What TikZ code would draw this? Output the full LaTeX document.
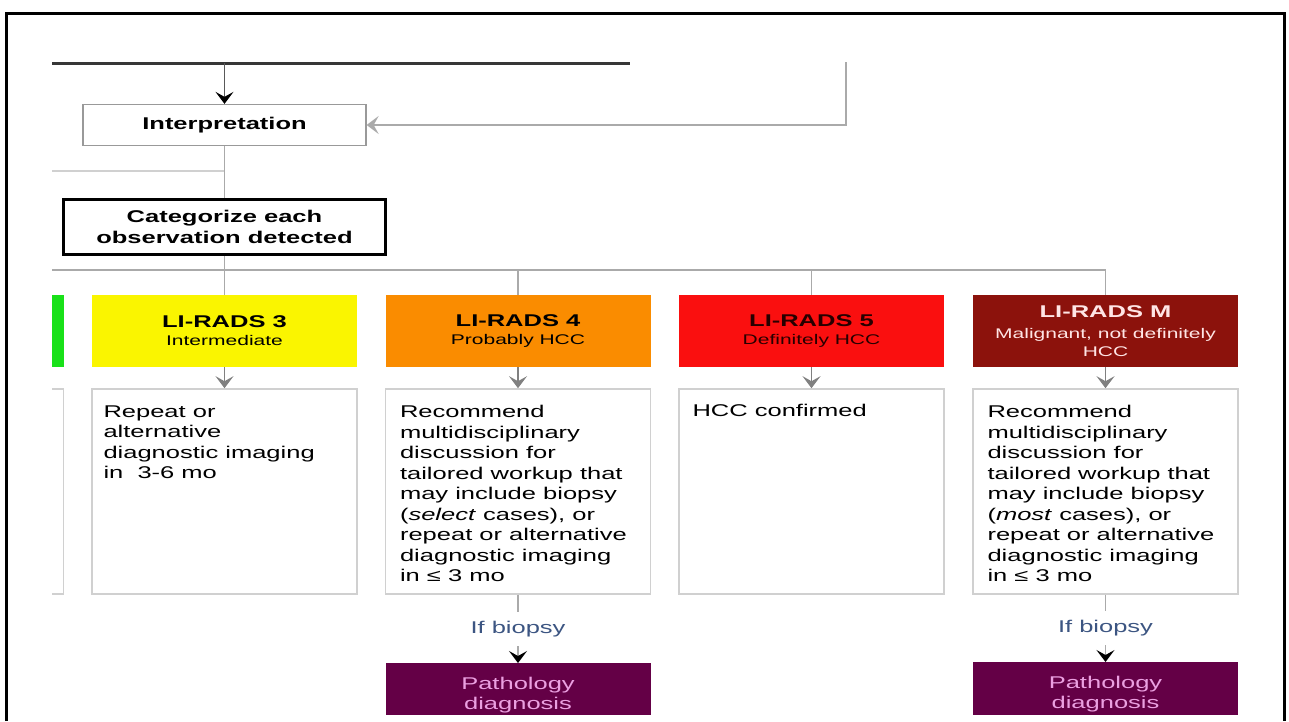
\documentclass[tikz,border=0pt]{standalone}
\usepackage{fontspec}
\setmainfont[FakeStretch=1.5]{Liberation Sans}
\usetikzlibrary{arrows.meta, positioning}
\definecolor{lineGray}{RGB}{170,170,170}
\definecolor{boxEdge}{RGB}{208,208,208}
\definecolor{topDark}{RGB}{55,55,55}
\definecolor{lrGreen}{RGB}{25,225,25}
\definecolor{lrYellow}{RGB}{250,245,0}
\definecolor{lrOrange}{RGB}{250,140,0}
\definecolor{lrRed}{RGB}{250,15,15}
\definecolor{lrDarkRed}{RGB}{140,18,12}
\definecolor{pathPurple}{RGB}{100,0,70}
\definecolor{pathPink}{RGB}{235,160,225}
\definecolor{biopsyBlue}{RGB}{60,85,130}
\newcommand{\bodyfont}{\fontsize{17}{20.5}\selectfont}
\newcommand{\subfont}{\fontsize{14}{17}\selectfont}
\begin{document}
\begin{tikzpicture}[x=1pt, y=-1pt,
  every node/.style={inner sep=0pt, font=\bodyfont},
  conn/.style={draw=lineGray, line width=1.3pt},
  arrowgray/.style={-{Stealth[length=12pt 0 0, width=18pt 0 0, inset=5pt 0 0]}},
  arrowblack/.style={-{Stealth[length=12pt 0 0, width=18pt 0 0, inset=5pt 0 0, color=black]}},
  stepbox/.style={draw=gray!80, line width=1.3pt, fill=white, minimum width=283, minimum height=41},
  catbox/.style={minimum width=265, minimum height=72, align=center, font=\fontsize{17}{18}\selectfont},
  notebox/.style={draw=boxEdge, line width=1.3pt, fill=white, minimum width=265, minimum height=205},
  notetext/.style={anchor=north west, align=left},
  pathbox/.style={fill=pathPurple, text=pathPink, minimum width=265, minimum height=64, align=center, font=\fontsize{17}{20}\selectfont}]
  \useasboundingbox[fill=white] (0,0) rectangle (1289,721);

  \begin{scope}
    \clip (52,55) rectangle (1280,714);
    % incoming lines
    \coordinate (topL) at (40,63);
    \coordinate (topR) at (630,63);
    \coordinate (rightin) at (846,62);
    \coordinate (leftin) at (30,171);
    \coordinate (bus) at (0,270);

    \node[stepbox, font=\bodyfont\bfseries] (interp) at (224.5,125) {Interpretation};
    \node[draw=black, line width=3pt, fill=white, minimum width=322, minimum height=55,
      align=center, font=\fontsize{17}{21}\selectfont\bfseries] (categ) at (224.5,227)
      {Categorize each\\observation detected};

    % categories
    \node[catbox, fill=lrGreen] (lr2) at (-69,331) {};
    \node[catbox, fill=lrYellow] (lr3) at (224.5,331) {\textbf{LI-RADS 3}\\{\subfont Intermediate}};
    \node[catbox, fill=lrOrange] (lr4) at (518,331) {\textbf{LI-RADS 4}\\{\subfont Probably HCC}};
    \node[catbox, fill=lrRed, text=black!85!red] (lr5) at (811.5,331) {\textbf{LI-RADS 5}\\{\subfont Definitely HCC}};
    \node[catbox, fill=lrDarkRed, text=white!90!red] (lrm) at (1105.5,331)
      {\textbf{LI-RADS M}\\[3pt]{\subfont Malignant, not definitely}\\{\subfont HCC}};

    % management
    \node[notebox, below=21pt of lr2] (lr2box) {};
    \node[notebox, below=21pt of lr3] (lr3box) {};
    \node[notebox, below=21pt of lr4] (lr4box) {};
    \node[notebox, below=21pt of lr5] (lr5box) {};
    \node[notebox, below=21pt of lrm] (lrmbox) {};
    \node[notetext] (lr3txt) at ([xshift=12pt,yshift=-17pt]lr3box.north west)
      {Repeat or\\alternative\\diagnostic imaging\\in~~3-6 mo};
    \node[notetext] (lr4txt) at ([xshift=15pt,yshift=-17pt]lr4box.north west)
      {Recommend\\multidisciplinary\\discussion for\\tailored workup that\\may include biopsy\\(\textit{select} cases), or\\repeat or alternative\\diagnostic imaging\\in ≤ 3 mo};
    \node[notetext] (lr5txt) at ([xshift=14pt,yshift=-16pt]lr5box.north west) {HCC confirmed};
    \node[notetext] (lrmtxt) at ([xshift=15pt,yshift=-17pt]lrmbox.north west)
      {Recommend\\multidisciplinary\\discussion for\\tailored workup that\\may include biopsy\\(\textit{most} cases), or\\repeat or alternative\\diagnostic imaging\\in ≤ 3 mo};

    \node[pathbox, anchor=north] (path4) at (518,663) {Pathology\\diagnosis};
    \node[pathbox, anchor=north] (pathm) at (1105.5,662) {Pathology\\diagnosis};

    % connectors
    \draw[topDark, line width=3pt] (topL) -- (topR);
    \draw[conn, draw=black!65, arrowblack] (interp.north |- topR) -- (interp.north);
    \draw[conn, arrowgray] (rightin) |- (interp.east);
    \draw[conn, draw=boxEdge] (leftin) -- (leftin -| interp.south);
    \draw[conn] (interp) -- (categ);
    \draw[conn] (categ) -- (lr3);
    \draw[conn] (lr2.north |- bus) -- (lrm.north |- bus);
    \foreach \n in {lr2,lr4,lr5,lrm}
      \draw[conn] (\n.north |- bus) -- (\n.north);
    \foreach \n in {lr3,lr4,lr5,lrm}
      \draw[conn, draw=gray, arrowgray] (\n) -- (\n box);
    \draw[conn, arrowblack] (lr4box) -- node[fill=white, inner ysep=9pt, text=biopsyBlue] (bio4) {If biopsy} (path4);
    \draw[conn, arrowblack] (lrmbox) -- node[fill=white, inner ysep=9pt, text=biopsyBlue] (biom) {If biopsy} (pathm);
  \end{scope}

  % frame
  \draw[line width=3pt] (6,721) -- (6,13) -- (1284,13) -- (1284,721);
\end{tikzpicture}
\end{document}
